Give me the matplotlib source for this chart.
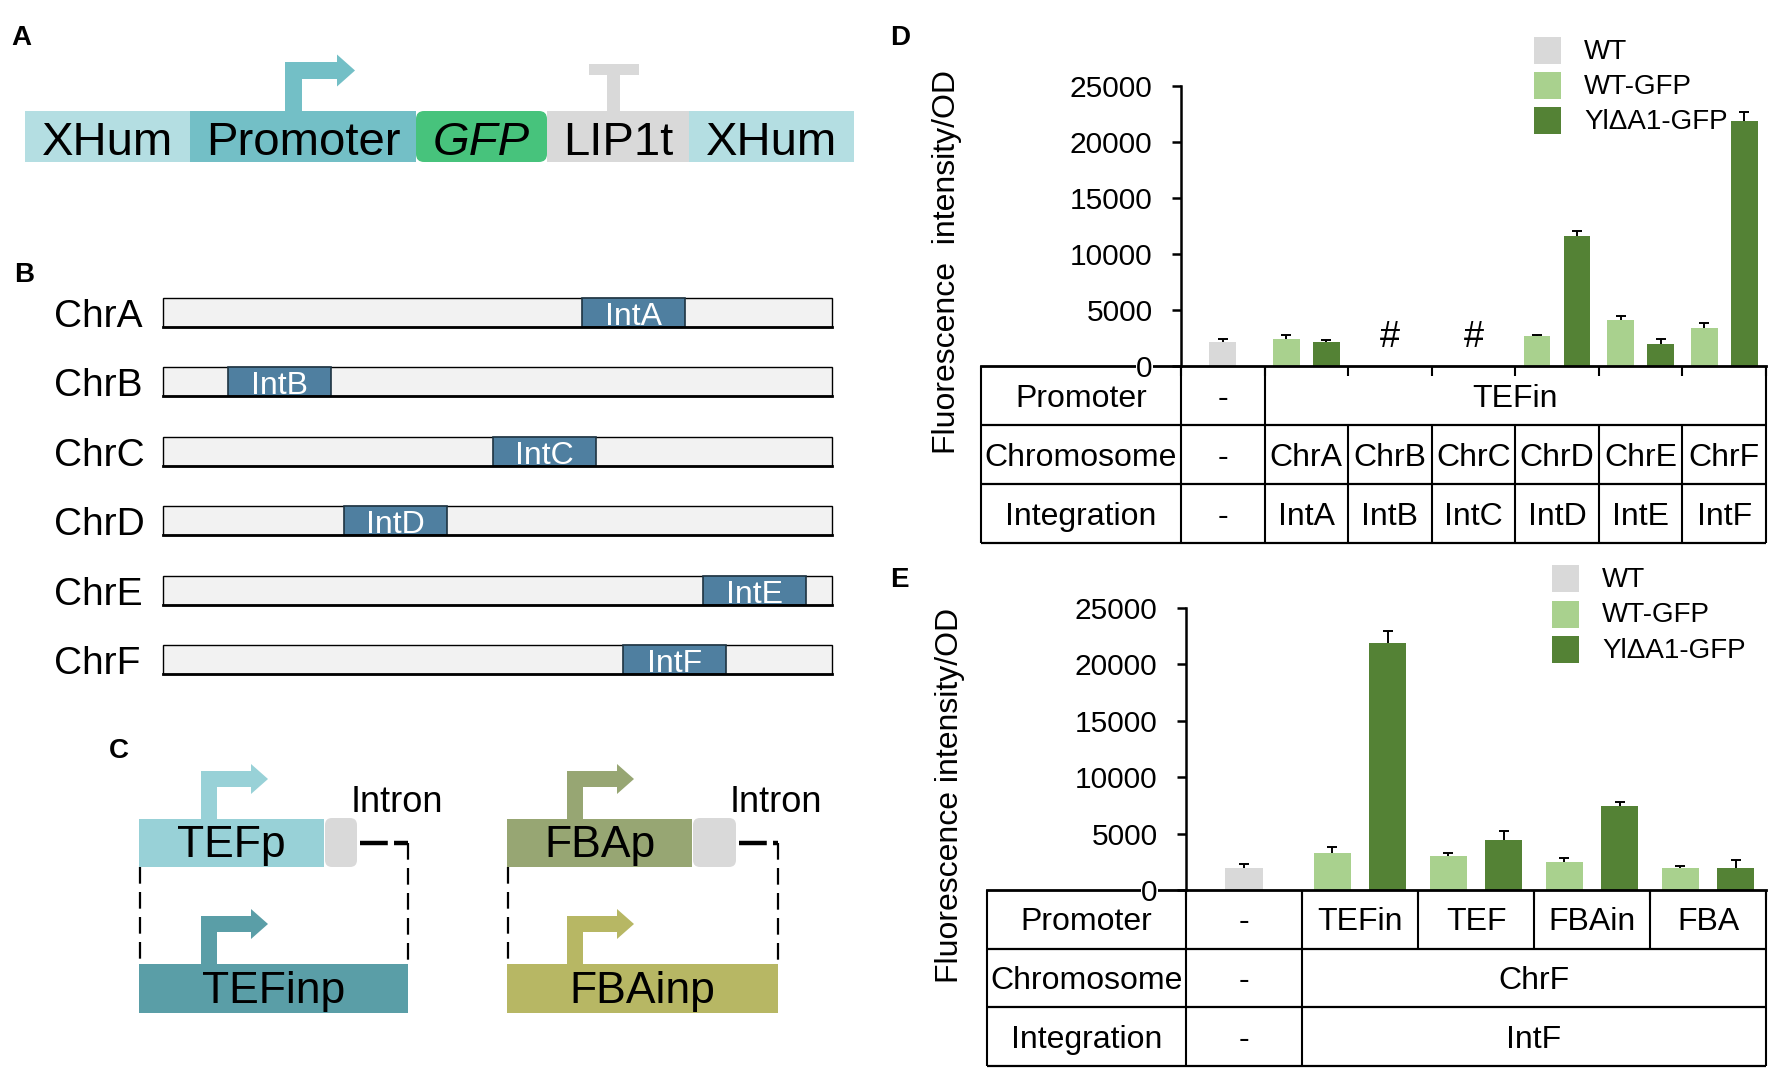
import numpy as np
import matplotlib.pyplot as plt
from matplotlib.patches import Rectangle, FancyBboxPatch, Polygon

plt.rcParams['font.family'] = ['Liberation Sans', 'DejaVu Sans']
plt.rcParams['lines.scale_dashes'] = False

nan = np.nan

# series shared by panels D and E
series = ['WT', 'WT-GFP', 'YlΔA1-GFP']
series_colors = ['#d9d9d9', '#a9d18e', '#548235']

# panel A: expression cassette
a_parts = ['XHum', 'Promoter', 'GFP', 'LIP1t', 'XHum']
a_colors = ['#b4dee2', '#73bfc6', '#47c37c', '#d9d9d9', '#b4dee2']

# panel B: chromosomes and integration sites (fraction along chromosome)
b_chrom = ['ChrA', 'ChrB', 'ChrC', 'ChrD', 'ChrE', 'ChrF']
b_sites = ['IntA', 'IntB', 'IntC', 'IntD', 'IntE', 'IntF']
b_site_pos = [0.626, 0.097, 0.493, 0.271, 0.807, 0.688]

# panel C: native and intron promoters
c_native = ['TEFp', 'FBAp']
c_intron = ['TEFinp', 'FBAinp']
c_native_colors = ['#98d1d7', '#97a673']
c_intron_colors = ['#5a9ea7', '#b7b764']

# panel D
d_promoter = [('-', 1), ('TEFin', 6)]
d_chrom = ['-', 'ChrA', 'ChrB', 'ChrC', 'ChrD', 'ChrE', 'ChrF']
d_integ = ['-', 'IntA', 'IntB', 'IntC', 'IntD', 'IntE', 'IntF']
d_wt = [2150, nan, nan, nan, nan, nan, nan]
d_wt_err = [250, 0, 0, 0, 0, 0, 0]
d_gfp = [nan, 2420, nan, nan, 2680, 4100, 3400]
d_gfp_err = [0, 380, 0, 0, 130, 370, 400]
d_yl = [nan, 2120, nan, nan, 11600, 2000, 21900]
d_yl_err = [0, 230, 0, 0, 470, 380, 780]

# panel E
e_promoter = ['-', 'TEFin', 'TEF', 'FBAin', 'FBA']
e_chrom = [('-', 1), ('ChrF', 4)]
e_integ = [('-', 1), ('IntF', 4)]
e_wt = [1970, nan, nan, nan, nan]
e_wt_err = [300, 0, 0, 0, 0]
e_gfp = [nan, 3270, 3030, 2500, 1970]
e_gfp_err = [0, 500, 210, 300, 180]
e_yl = [nan, 21900, 4400, 7460, 1970]
e_yl_err = [0, 1100, 820, 300, 700]

W, H = 1775, 1071
fig = plt.figure(figsize=(W / 100, H / 100), dpi=100)
ax0 = fig.add_axes([0, 0, 1, 1])
ax0.set_xlim(0, W)
ax0.set_ylim(H, 0)
ax0.axis('off')


def panel_label(x, y, s):
    ax0.text(x, y, s, fontsize=20, fontweight='bold', va='baseline')


def bent_arrow(x0, ybase, ytop, xh, xtip, color, th=16, hh=15):
    ym = ytop + th / 2
    pts = [(x0, ybase), (x0, ytop), (xh, ytop), (xh, ym - hh), (xtip, ym),
           (xh, ym + hh), (xh, ytop + th), (x0 + th, ytop + th), (x0 + th, ybase)]
    ax0.add_patch(Polygon(pts, closed=True, fc=color, ec='none'))


# ---- A ----
panel_label(11, 45, 'A')
a_edges = [25, 190, 416, 547, 689, 854]
for i, (name, col) in enumerate(zip(a_parts, a_colors)):
    x1, x2 = a_edges[i], a_edges[i + 1]
    if name == 'GFP':
        ax0.add_patch(FancyBboxPatch((x1, 111), x2 - x1, 51, boxstyle='round,pad=0,rounding_size=8',
                                     fc=col, ec='none'))
    else:
        ax0.add_patch(Rectangle((x1, 111), x2 - x1, 51, fc=col, ec='none'))
    ax0.text((x1 + x2) / 2, 155, name, fontsize=34, ha='center', va='baseline',
             style='italic' if name == 'GFP' else 'normal')
bent_arrow(285, 111, 62, 337, 355, a_colors[1], th=17, hh=16)
ax0.add_patch(Rectangle((607, 75), 13, 36, fc='#d9d9d9', ec='none'))
ax0.add_patch(Rectangle((589, 64), 50, 11, fc='#d9d9d9', ec='none'))

# ---- B ----
panel_label(14, 282, 'B')
bx1, bx2 = 163, 832
for i, (chrom, site, pos) in enumerate(zip(b_chrom, b_sites, b_site_pos)):
    y = 298 + i * 69.4
    ax0.add_patch(Rectangle((bx1, y), bx2 - bx1, 29, fc='#f2f2f2', ec='black', lw=1.0))
    ax0.plot([bx1, bx2], [y + 29, y + 29], color='black', lw=2.0)
    sx = bx1 + pos * (bx2 - bx1)
    sw = 0.154 * (bx2 - bx1)
    ax0.add_patch(Rectangle((sx, y), sw, 29, fc='#4f7fa0', ec='#1e3442', lw=1.2))
    ax0.text(sx + sw / 2, y + 27, site, color='white', fontsize=23, ha='center', va='baseline')
    ax0.text(54, y + 29, chrom, fontsize=28, va='baseline')

# ---- C ----
panel_label(109, 758, 'C')
c_layout = [  # box left, native right, intron right, intron-box right, arrow x
    (139, 324, 357, 408, 201),
    (507, 692, 736, 778, 567),
]
for (xl, xn, xi, xr, xa), nat, intr, cn, ci in zip(c_layout, c_native, c_intron,
                                                 c_native_colors, c_intron_colors):
    ax0.add_patch(Rectangle((xl, 819), xn - xl, 48, fc=cn, ec='none'))
    ax0.add_patch(FancyBboxPatch((xn + 1, 818), xi - xn - 1, 49, boxstyle='round,pad=0,rounding_size=7',
                                 fc='#d9d9d9', ec='none'))
    ax0.add_patch(Rectangle((xl, 964), xr - xl, 49, fc=ci, ec='none'))
    ax0.text((xl + xn) / 2, 857, nat, fontsize=32, ha='center', va='baseline')
    ax0.text((xl + xr) / 2, 1003, intr, fontsize=32, ha='center', va='baseline')
    ax0.text(xi - 6, 812, 'Intron', fontsize=26, va='baseline')
    bent_arrow(xa, 819, 771, xa + 50, xa + 67, cn)
    bent_arrow(xa, 964, 916, xa + 50, xa + 67, ci)
    ax0.plot([xi + 3, xr], [843, 843], color='black', lw=3.2, dashes=(20, 4.5))
    ax0.plot([xr, xr], [843, 964], color='black', lw=1.6, dashes=(12, 6))
    ax0.plot([xl + 1, xl + 1], [867, 964], color='black', lw=1.6, dashes=(12, 6))


# ---- D / E ----
def bar_panel(ax, tab, label_w, wt, wt_err, gfp, gfp_err, yl, yl_err, rows):
    ncols = len(wt)
    centers = np.arange(ncols) + 0.5
    for vals, errs, off, color in [(wt, wt_err, 0.0, series_colors[0]),
                                   (gfp, gfp_err, -0.24, series_colors[1]),
                                   (yl, yl_err, 0.24, series_colors[2])]:
        vals = np.array(vals, float)
        errs = np.array(errs, float)
        ok = ~np.isnan(vals)
        ax.bar(centers[ok] + off, vals[ok], 0.32, color=color, zorder=2)
        eb = ax.errorbar(centers[ok] + off, vals[ok], yerr=[np.zeros(ok.sum()), errs[ok]],
                         fmt='none', ecolor='black', elinewidth=1.4, capsize=3.5,
                         capthick=1.4, zorder=3, clip_on=False)
        eb.lines[1][0].set_visible(False)
    # columns without any measurement
    for i in range(1, ncols):
        if np.isnan(gfp[i]) and np.isnan(yl[i]) and np.isnan(wt[i]):
            ax.text(centers[i], 1700, '#', fontsize=26, ha='center', va='baseline')

    ax.set_xlim(-label_w, ncols)
    ax.set_ylim(0, 25000)
    ax.set_yticks(np.arange(0, 25001, 5000))
    ax.set_xticks(np.arange(0, ncols + 1))
    ax.tick_params(axis='x', direction='out', length=7, width=1.5, labelbottom=False)
    ax.tick_params(axis='y', direction='out', length=6.5, width=1.8, pad=14, labelsize=21.5)
    ax.spines['top'].set_visible(False)
    ax.spines['right'].set_visible(False)
    ax.spines['left'].set_position(('data', 0))
    ax.spines['left'].set_linewidth(1.8)
    ax.spines['bottom'].set_linewidth(2.0)
    ax.set_facecolor('none')
    ax.yaxis.set_zorder(3)
    ax.yaxis.get_major_ticks()[0].label1.set_bbox(dict(fc='white', ec='none', pad=0))

    tab.set_ylim(len(rows), 0)
    tab.axis('off')
    tab.patch.set_visible(False)
    for r, (name, cells) in enumerate(rows):
        tab.text(-label_w / 2, r + 0.69, name, fontsize=23, ha='center', va='baseline')
        edges = [-label_w, 0]
        x = 0
        for text, span in cells:
            tab.text(x + span / 2, r + 0.69, text, fontsize=23, ha='center', va='baseline')
            x += span
            edges.append(x)
        tab.vlines(edges, r, r + 1, colors='black', lw=1.5, clip_on=False)
    tab.hlines(np.arange(1, len(rows) + 1), -label_w, ncols, colors='black', lw=1.6, clip_on=False)


def add_axes_px(x1, y1, x2, y2, **kw):
    return fig.add_axes([x1 / W, 1 - y2 / H, (x2 - x1) / W, (y2 - y1) / H], **kw)


def draw_legend(x, y0, step):
    for k, (name, color) in enumerate(zip(series, series_colors)):
        yt = y0 + k * step
        ax0.add_patch(Rectangle((x, yt), 27, 27, fc=color, ec='none'))
        ax0.text(x + 50, yt + 22, name, fontsize=20, va='baseline')


panel_label(890, 45, 'D')
ax_d = add_axes_px(981, 86, 1766, 366)
tab_d = add_axes_px(981, 366, 1766, 543, sharex=ax_d)
d_rows = [('Promoter', d_promoter),
          ('Chromosome', [(c, 1) for c in d_chrom]),
          ('Integration', [(c, 1) for c in d_integ])]
bar_panel(ax_d, tab_d, 2.393, d_wt, d_wt_err, d_gfp, d_gfp_err, d_yl, d_yl_err, d_rows)
ax0.text(947, 262, 'Fluorescence  intensity/OD', fontsize=23, rotation=90, ha='center', va='center')
draw_legend(1534, 37, 35)

panel_label(890, 587, 'E')
ax_e = add_axes_px(987, 608, 1766, 890)
tab_e = add_axes_px(987, 890, 1766, 1066, sharex=ax_e)
e_rows = [('Promoter', [(c, 1) for c in e_promoter]),
          ('Chromosome', e_chrom),
          ('Integration', e_integ)]
bar_panel(ax_e, tab_e, 1.716, e_wt, e_wt_err, e_gfp, e_gfp_err, e_yl, e_yl_err, e_rows)
ax0.text(950, 795, 'Fluorescence intensity/OD', fontsize=23, rotation=90, ha='center', va='center')
draw_legend(1552, 565, 35.5)

fig.savefig('out.png', dpi=100)
